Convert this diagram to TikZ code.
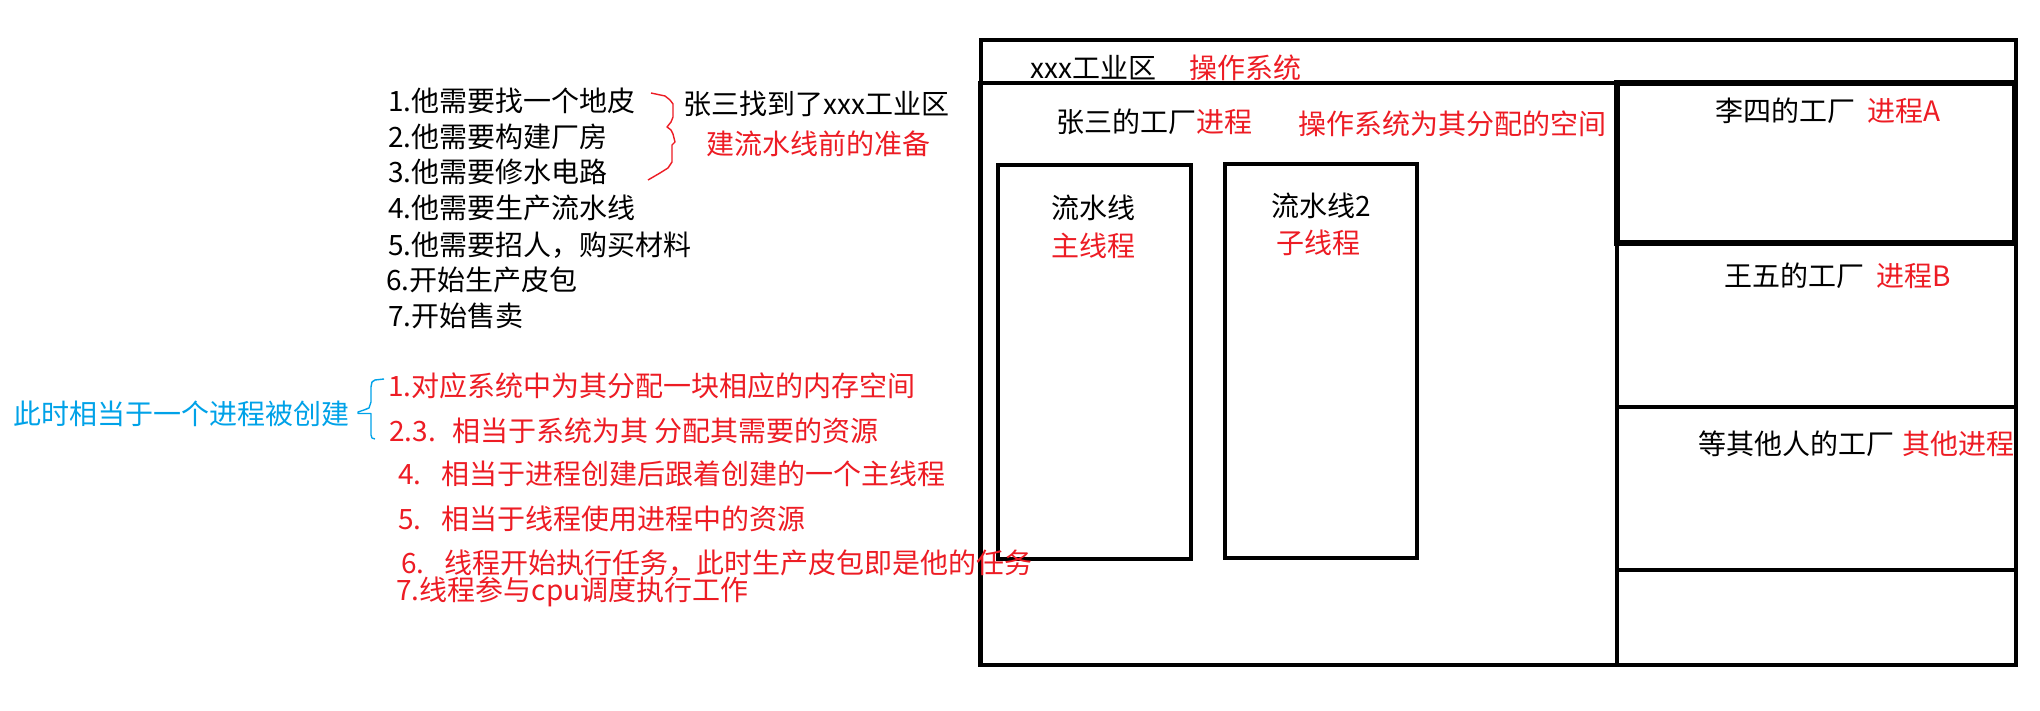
\documentclass[tikz,border=0pt]{standalone}
\usepackage{fontspec}
\setmainfont{Noto Sans CJK SC}
\definecolor{pred}{RGB}{237,28,36}
\definecolor{pblue}{RGB}{0,162,232}
\begin{document}
\begin{tikzpicture}[x=0.5pt,y=-0.5pt,
  box/.style={draw=black,line width=2.3pt},
  thickbox/.style={draw=black,line width=3pt},
  txt/.style={inner sep=0pt,anchor=west,font=\fontsize{14}{17}\selectfont},
  ctxt/.style={inner sep=0pt,anchor=center,font=\fontsize{14}{17}\selectfont},
  rtxt/.style={txt,text=pred},
  rctxt/.style={ctxt,text=pred},
  btxt/.style={txt,text=pblue}]
\useasboundingbox (0,0) rectangle (2040,711);
\fill[white] (0,0) rectangle (2040,711);
% outer boxes
\draw[box] (981,40) rectangle (2016,665);
\draw[box] (980,83) rectangle (1617,665);
\draw[thickbox] (1617,83) rectangle (2015,243);
\draw[box] (1617,243) rectangle (2016,407);
\draw[box] (1617,407) rectangle (2016,570);
% thread boxes
\draw[box] (998,165) rectangle (1191,559);
\draw[box] (1225,164) rectangle (1417,558);
% box texts
\node[txt] (ind) at (1030,68) {xxx工业区};
\node[rtxt] (os) at (1189,68) {操作系统};
\node[txt] (zs) at (1056,122) {张三的工厂\textcolor{pred}{进程}};
\node[rtxt] (space) at (1298,124) {操作系统为其分配的空间};
\node[ctxt] (l1) at (1093,208) {流水线};
\node[rctxt] (m1) at (1093,246) {主线程};
\node[ctxt] (l2) at (1321,206) {流水线2};
\node[rctxt] (m2) at (1318,243) {子线程};
\node[txt] (ls) at (1715,111) {李四的工厂};
\node[rtxt] (pa) at (1867,111) {进程A};
\node[txt] (ww) at (1724,276) {王五的工厂};
\node[rtxt] (pb) at (1876,276) {进程B};
\node[txt] (qt) at (1698,444) {等其他人的工厂};
\node[rtxt] (pq) at (1902,444) {其他进程};
% black list
\node[txt] (s1) at (388,101) {1.他需要找一个地皮};
\node[txt] (s2) at (388,137) {2.他需要构建厂房};
\node[txt] (s3) at (388,172) {3.他需要修水电路};
\node[txt] (s4) at (388,208) {4.他需要生产流水线};
\node[txt] (s5) at (388,245) {5.他需要招人，购买材料};
\node[txt] (s6) at (386,280) {6.开始生产皮包};
\node[txt] (s7) at (388,316) {7.开始售卖};
% red brace
\draw[pred,line width=0.7pt,line join=round]
  (651,93) -- (665,96) -- (670,100) -- (673,104) -- (673,117) -- (671,122) -- (667,127)
  -- (671,130) -- (673,134) -- (675,142) -- (672,145) -- (672,162) -- (668,168)
  -- (660,173) -- (648,180);
\node[txt] (zsf) at (683,104) {张三找到了xxx工业区};
\node[rtxt] (prep) at (706,144) {建流水线前的准备};
% blue
\node[btxt] (created) at (13,414) {此时相当于一个进程被创建};
\draw[pblue,line width=0.7pt,line join=round]
  (384,379) -- (375,380) -- (372,382) -- (371,387) -- (371,402) -- (369,408) -- (364,410)
  -- (358,412) -- (358,413.5) -- (371,413.5) -- (371,435) -- (372,438) -- (375,439);
% red list
\node[rtxt] (r1) at (388,386) {1.对应系统中为其分配一块相应的内存空间};
\node[rtxt] (r2) at (389,431) {2.3.\hspace{0.6em}相当于系统为其\hspace{0.2em}分配其需要的资源};
\node[rtxt] (r4) at (398,474) {4.\hspace{0.7em}相当于进程创建后跟着创建的一个主线程};
\node[rtxt] (r5) at (398,519) {5.\hspace{0.7em}相当于线程使用进程中的资源};
\node[rtxt] (r6) at (401,563) {6.\hspace{0.7em}线程开始执行任务，此时生产皮包即是他的任务};
\node[rtxt] (r7) at (396,592) {7.线程参与cpu调度执行工作};
\end{tikzpicture}
\end{document}
